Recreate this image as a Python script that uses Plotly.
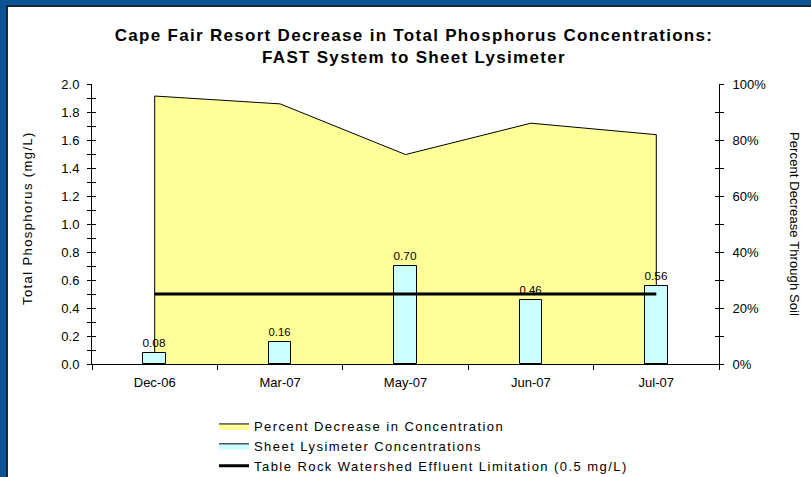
import plotly.graph_objects as go

categories = ["Dec-06", "Mar-07", "May-07", "Jun-07", "Jul-07"]
percent_decrease = [0.957, 0.929, 0.748, 0.860, 0.819]
lysimeter_conc = [0.08, 0.16, 0.70, 0.46, 0.56]
effluent_limit = [0.5, 0.5, 0.5, 0.5, 0.5]

W, H = 811, 477
L, R, T, B = 92, 92, 84, 113
PW, PH = W - L - R, H - T - B

def px(x):
    return (x - L) / PW

def py(y):
    return (H - B - y) / PH

FONT = "Arial, Liberation Sans, sans-serif"
NAVY = "#0B5394"

def spaced(s, ls):
    return f'<span style="letter-spacing:{ls}px">{s}</span>'

# closed outline of the area (down to zero at both ends)
area_x = [categories[0]] + categories + [categories[-1]]
area_y = [0] + percent_decrease + [0]

fig = go.Figure()

fig.add_trace(go.Scatter(
    x=area_x, y=area_y, yaxis="y", mode="lines",
    fill="toself", fillcolor="#FFFF99", line=dict(color="black", width=1),
    name=spaced("Percent Decrease in Concentration", 1.45), legendrank=1,
    legendgroup="a",
))
fig.add_trace(go.Bar(
    x=categories, y=lysimeter_conc, yaxis="y2", width=0.18,
    marker=dict(color="#CCFFFF", line=dict(color="black", width=1)),
    text=[f"{v:.2f}" for v in lysimeter_conc], textposition="outside",
    textfont=dict(size=13, color="black", family=FONT), cliponaxis=False,
    name="Sheet Lysimeter Concentrations", showlegend=False,
))
fig.add_trace(go.Scatter(
    x=[None], y=[None], yaxis="y2", mode="lines", fill="toself",
    fillcolor="#CCFFFF", line=dict(color="black", width=1),
    name=spaced("Sheet Lysimeter Concentrations", 1.45), legendrank=2,
    legendgroup="b",
))
fig.add_trace(go.Scatter(
    x=categories, y=effluent_limit, yaxis="y2", mode="lines",
    line=dict(color="black", width=3),
    name=spaced("Table Rock Watershed Effluent Limitation (0.5 mg/L)", 1.45), legendrank=3,
    legendgroup="c",
))
fig.add_trace(go.Scatter(x=categories, y=[None]*5, yaxis="y3", showlegend=False, hoverinfo="skip"))
fig.add_trace(go.Scatter(x=categories, y=[None]*5, yaxis="y4", showlegend=False, hoverinfo="skip"))

tickfont = dict(family=FONT, size=13, color="black")

fig.update_layout(
    width=W, height=H,
    margin=dict(l=L, r=R, t=T, b=B, pad=0, autoexpand=False),
    paper_bgcolor="white",
    plot_bgcolor="rgba(0,0,0,0)",
    font=dict(family=FONT, size=13, color="black"),
    title=dict(
        text="<b>" + spaced("Cape Fair Resort Decrease in Total Phosphorus Concentrations:", 1.3)
             + "<br>" + spaced("FAST System to Sheet Lysimeter", 1.3) + "</b>",
        x=414 / W, xref="container", xanchor="center", y=1 - 41 / H, yanchor="middle",
        font=dict(family=FONT, size=17, color="black"),
    ),
    xaxis=dict(
        type="category", showline=True, linecolor="black", linewidth=1,
        ticks="outside", ticklen=5, tickcolor="black", tickson="boundaries",
        ticklabelstandoff=6,
        showgrid=False, tickfont=tickfont, range=[-0.5, 4.5],
    ),
    yaxis=dict(
        side="right", range=[0, 1], dtick=0.2, tickformat=".0%",
        showline=True, linecolor="black", linewidth=1,
        ticks="outside", ticklen=4, tickcolor="black", ticklabelstandoff=6,
        minor=dict(dtick=0.1, ticks="outside", ticklen=4, tickcolor="black"),
        showgrid=False, zeroline=False, tickfont=tickfont,
    ),
    yaxis2=dict(
        side="left", overlaying="y", range=[0, 2], dtick=0.2, tickformat=".1f",
        showline=True, linecolor="black", linewidth=1,
        ticks="outside", ticklen=4, tickcolor="black", ticklabelstandoff=5,
        minor=dict(dtick=0.1, ticks="outside", ticklen=4, tickcolor="black"),
        showgrid=False, zeroline=False, tickfont=tickfont,
    ),
    yaxis3=dict(
        side="left", overlaying="y", range=[0, 2], dtick=0.2,
        showline=False, ticks="inside", ticklen=4, tickcolor="black",
        minor=dict(dtick=0.1, ticks="inside", ticklen=4, tickcolor="black"),
        showticklabels=False, showgrid=False, zeroline=False,
    ),
    yaxis4=dict(
        side="right", overlaying="y", range=[0, 1], dtick=0.2,
        showline=False, ticks="inside", ticklen=4, tickcolor="black",
        minor=dict(dtick=0.1, ticks="inside", ticklen=4, tickcolor="black"),
        showticklabels=False, showgrid=False, zeroline=False,
    ),
    legend=dict(
        x=px(214), xanchor="left", y=py(411), yanchor="top",
        bgcolor="rgba(0,0,0,0)", font=dict(family=FONT, size=13, color="black"),
        traceorder="grouped", tracegroupgap=0,
    ),
    showlegend=True,
    bargap=0,
)

fig.add_annotation(
    text=spaced("Total Phosphorus (mg/L)", 1.4), textangle=-90,
    xref="paper", yref="paper", x=px(27), y=py(218), xanchor="center", yanchor="middle",
    showarrow=False, font=dict(family=FONT, size=13, color="black"),
)
fig.add_annotation(
    text=spaced("Percent Decrease Through Soil", 0.1), textangle=90,
    xref="paper", yref="paper", x=px(795), y=py(224), xanchor="center", yanchor="middle",
    showarrow=False, font=dict(family=FONT, size=13, color="black"),
)

fig.add_shape(type="rect", xref="paper", yref="paper", layer="below",
              x0=px(-20), x1=px(8), y0=py(H + 20), y1=py(-20),
              fillcolor="#1B2633", line=dict(width=0))
fig.add_shape(type="rect", xref="paper", yref="paper", layer="below",
              x0=px(-20), x1=px(W + 20), y0=py(7), y1=py(-20),
              fillcolor="#1B2633", line=dict(width=0))
fig.add_shape(type="rect", xref="paper", yref="paper", layer="below",
              x0=px(-20), x1=px(6), y0=py(H + 20), y1=py(-20),
              fillcolor=NAVY, line=dict(width=0))
fig.add_shape(type="rect", xref="paper", yref="paper", layer="below",
              x0=px(-20), x1=px(W + 20), y0=py(5), y1=py(-20),
              fillcolor=NAVY, line=dict(width=0))

fig.write_html(
    "out.html",
    config={"displayModeBar": False},
    post_script="document.body.style.margin='0';"
                "document.body.style.overflow='hidden';"
                "document.documentElement.style.overflow='hidden';",
)
